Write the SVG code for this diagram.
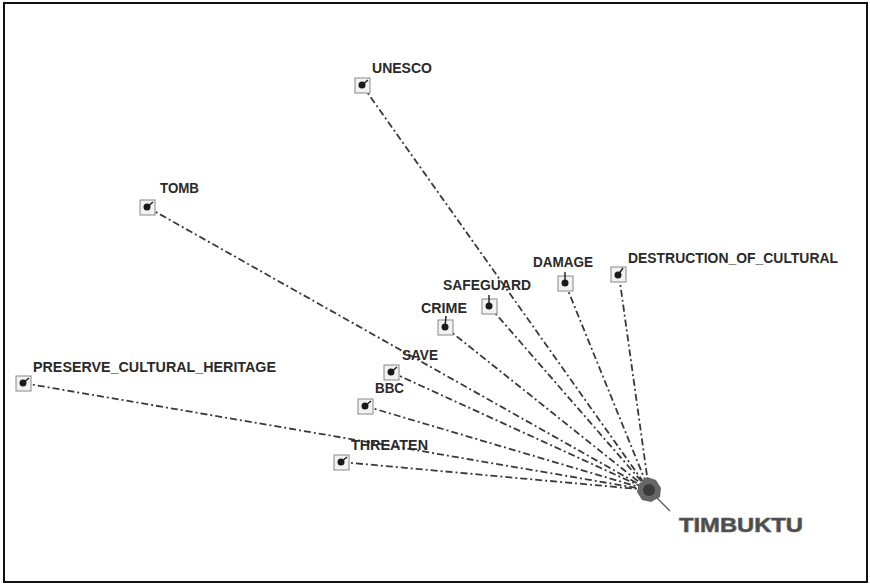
<svg xmlns="http://www.w3.org/2000/svg" width="870" height="585" viewBox="0 0 870 585">
<style>
.lbl{font-family:"Liberation Sans",Arial,sans-serif;font-weight:bold;font-size:14px;fill:#2a2a2a}
.big{font-family:"Liberation Sans",Arial,sans-serif;font-weight:bold;font-size:21px;fill:#4a4a4a;stroke:#666;stroke-width:0.7}
.edge{stroke:#3a3a3a;stroke-width:1.8;fill:none;stroke-dasharray:7 3 2 3}
.box{fill:#f2f2f2;stroke:#888;stroke-width:1}
.dot{fill:#1a1a1a}
.stub{stroke:#1a1a1a;stroke-width:1.4}
</style>
<rect x="4" y="3" width="863" height="579" fill="#fff" stroke="#111" stroke-width="2"/>
<g id="connectors">
<line class="edge" x1="362" y1="85" x2="649" y2="490"/>
<line class="edge" x1="147" y1="207" x2="649" y2="490"/>
<line class="edge" x1="565" y1="283" x2="649" y2="490"/>
<line class="edge" x1="619" y1="275" x2="649" y2="490"/>
<line class="edge" x1="489" y1="306" x2="649" y2="490"/>
<line class="edge" x1="445" y1="327" x2="649" y2="490"/>
<line class="edge" x1="391" y1="372" x2="649" y2="490"/>
<line class="edge" x1="365" y1="406" x2="649" y2="490"/>
<line class="edge" x1="23" y1="383" x2="649" y2="490"/>
<line class="edge" x1="341" y1="462" x2="649" y2="490"/>
<line x1="652" y1="493" x2="670" y2="511" stroke="#555" stroke-width="1.3"/>
</g>
<g id="UNESCO">
<rect class="box" x="355" y="78" width="15" height="15"/><circle class="dot" cx="362" cy="85" r="3.5"/><line class="stub" x1="362" y1="85" x2="368" y2="80"/>
<text class="lbl" x="372" y="73" textLength="60" lengthAdjust="spacingAndGlyphs">UNESCO</text>
</g>
<g id="TOMB">
<rect class="box" x="140" y="200" width="15" height="15"/><circle class="dot" cx="147" cy="207" r="3.5"/><line class="stub" x1="147" y1="207" x2="153" y2="202"/>
<text class="lbl" x="160" y="193" textLength="39" lengthAdjust="spacingAndGlyphs">TOMB</text>
</g>
<g id="DAMAGE">
<rect class="box" x="558" y="276" width="15" height="15"/><circle class="dot" cx="565" cy="283" r="3.5"/><line class="stub" x1="565" y1="283" x2="565" y2="272"/>
<text class="lbl" x="533" y="267" textLength="60" lengthAdjust="spacingAndGlyphs">DAMAGE</text>
</g>
<g id="DESTRUCTION_OF_CULTURAL">
<rect class="box" x="611" y="267" width="15" height="15"/><circle class="dot" cx="618" cy="275" r="3.5"/><line class="stub" x1="618" y1="275" x2="623" y2="268"/>
<text class="lbl" x="628" y="263" textLength="210" lengthAdjust="spacingAndGlyphs">DESTRUCTION_OF_CULTURAL</text>
</g>
<g id="SAFEGUARD">
<rect class="box" x="482" y="299" width="15" height="15"/><circle class="dot" cx="489" cy="306" r="3.5"/><line class="stub" x1="489" y1="306" x2="489" y2="295"/>
<text class="lbl" x="443" y="290" textLength="88" lengthAdjust="spacingAndGlyphs">SAFEGUARD</text>
</g>
<g id="CRIME">
<rect class="box" x="438" y="320" width="15" height="15"/><circle class="dot" cx="445" cy="327" r="3.5"/><line class="stub" x1="445" y1="327" x2="446" y2="316"/>
<text class="lbl" x="421" y="313" textLength="46" lengthAdjust="spacingAndGlyphs">CRIME</text>
</g>
<g id="SAVE">
<rect class="box" x="384" y="365" width="15" height="15"/><circle class="dot" cx="391" cy="372" r="3.5"/><line class="stub" x1="391" y1="372" x2="397" y2="367"/>
<text class="lbl" x="402" y="360" textLength="36" lengthAdjust="spacingAndGlyphs">SAVE</text>
</g>
<g id="BBC">
<rect class="box" x="358" y="399" width="15" height="15"/><circle class="dot" cx="365" cy="406" r="3.5"/><line class="stub" x1="365" y1="406" x2="371" y2="401"/>
<text class="lbl" x="375" y="393" textLength="29" lengthAdjust="spacingAndGlyphs">BBC</text>
</g>
<g id="PRESERVE_CULTURAL_HERITAGE">
<rect class="box" x="16" y="376" width="15" height="15"/><circle class="dot" cx="23" cy="383" r="3.5"/><line class="stub" x1="23" y1="383" x2="29" y2="378"/>
<text class="lbl" x="33" y="372" textLength="243" lengthAdjust="spacingAndGlyphs">PRESERVE_CULTURAL_HERITAGE</text>
</g>
<g id="THREATEN">
<rect class="box" x="334" y="455" width="15" height="15"/><circle class="dot" cx="341" cy="462" r="3.5"/><line class="stub" x1="341" y1="462" x2="347" y2="457"/>
<text class="lbl" x="351" y="450" textLength="77" lengthAdjust="spacingAndGlyphs">THREATEN</text>
</g>
<g id="TIMBUKTU">
<path d="M639 484 L647 477 L656 480 L661 488 L660 497 L651 502 L642 500 L637 492 Z" fill="#666"/>
<circle cx="649" cy="490" r="6" fill="#3a3a3a"/>
<text class="big" x="679" y="532" textLength="124" lengthAdjust="spacingAndGlyphs">TIMBUKTU</text>
</g>
</svg>
